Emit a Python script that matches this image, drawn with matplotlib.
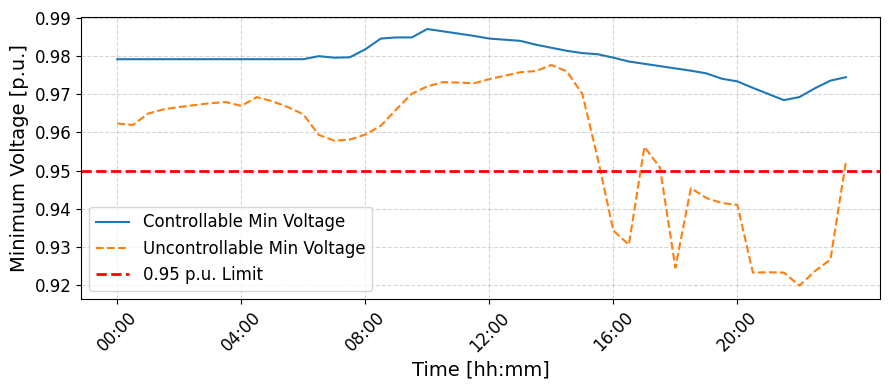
import matplotlib
matplotlib.use("Agg")
import matplotlib.pyplot as plt
import numpy as np

# time in hours (every 30 min)
hours = np.arange(48) * 0.5

controllable = [
    0.9791, 0.9791, 0.9791, 0.9791, 0.9791, 0.9791, 0.9791, 0.9791,
    0.9791, 0.9791, 0.9791, 0.9791, 0.9791, 0.9799, 0.9795, 0.9796,
    0.9817, 0.9845, 0.9848, 0.9848, 0.9870, 0.9864, 0.9858, 0.9852,
    0.9845, 0.9842, 0.9839, 0.9829, 0.9821, 0.9813, 0.9807, 0.9804,
    0.9795, 0.9785, 0.9779, 0.9773, 0.9767, 0.9761, 0.9754, 0.9740,
    0.9733, 0.9716, 0.9700, 0.9684, 0.9692, 0.9715, 0.9735, 0.9744,
]

uncontrollable = [
    0.9623, 0.9619, 0.9649, 0.9660, 0.9666, 0.9671, 0.9676, 0.9679,
    0.9669, 0.9692, 0.9681, 0.9666, 0.9647, 0.9593, 0.9578, 0.9581,
    0.9594, 0.9617, 0.9660, 0.9701, 0.9720, 0.9731, 0.9730, 0.9728,
    0.9739, 0.9748, 0.9757, 0.9760, 0.9776, 0.9759, 0.9700, 0.9530,
    0.9343, 0.9306, 0.9562, 0.9508, 0.9246, 0.9454, 0.9428, 0.9415,
    0.9410, 0.9233, 0.9234, 0.9233, 0.9199, 0.9237, 0.9267, 0.9523,
]

limit = 0.95
tick_hours = [0, 4, 8, 12, 16, 20]
tick_labels = ["00:00", "04:00", "08:00", "12:00", "16:00", "20:00"]

fig, ax = plt.subplots(figsize=(8.89, 3.90), dpi=100)
fig.subplots_adjust(left=0.0911, right=0.9899, top=0.957, bottom=0.2333)

ax.plot(hours, controllable, color="#1f77b4", linewidth=1.5,
        label="Controllable Min Voltage")
ax.plot(hours, uncontrollable, color="#ff7f0e", linewidth=1.5, linestyle="--",
        label="Uncontrollable Min Voltage")
ax.axhline(limit, color="red", linestyle="--", linewidth=2,
           label="0.95 p.u. Limit")

ax.set_xticks(tick_hours)
ax.set_xticklabels(tick_labels, rotation=45, fontsize=12)
ax.set_yticks([0.92, 0.93, 0.94, 0.95, 0.96, 0.97, 0.98, 0.99])
ax.tick_params(axis="y", labelsize=12)
ax.set_ylim(0.9164, 0.9902)
ax.set_xlim(-1.17, 24.6)

ax.set_xlabel("Time [hh:mm]", fontsize=14)
ax.set_ylabel("Minimum Voltage [p.u.]", fontsize=14)
ax.grid(True, linestyle="--", alpha=0.5)
ax.legend(loc="lower left", fontsize=12)

fig.savefig("out.png", dpi=100)
